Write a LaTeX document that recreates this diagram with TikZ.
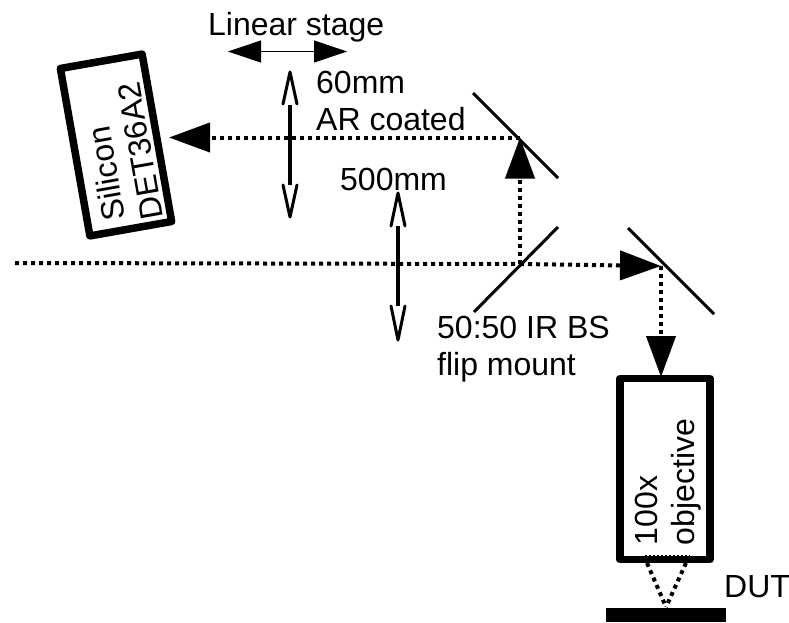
\documentclass[tikz,border=0pt]{standalone}
\usepackage{fontspec}
\setmainfont{Liberation Sans}
\usetikzlibrary{arrows.meta}
\begin{document}
\begin{tikzpicture}[
    x=1pt, y=-1pt,
    label/.style={anchor=base west, inner sep=0pt, align=left},
    instrument/.style={rectangle, draw, line width=7.5pt, line join=round, fill=white, inner sep=0pt},
    sidetext/.style={inner sep=0pt, align=left},
    beam/.style={line width=4pt, dash pattern=on 4pt off 4pt},
    ray/.style={beam, -{Triangle[length=41pt, width=29pt]}},
    mirror/.style={line width=3pt},
    lens/.style={line width=4pt},
    barb/.style={line width=3pt, line join=round, line cap=round},
    every node/.style={font=\fontsize{32}{37}\selectfont},
  ]
  \useasboundingbox (0,0) rectangle (789,622);

  % beam path
  \coordinate (source) at (15,263);
  \coordinate (split) at (520,264);
  \coordinate (foldtop) at (520,137.5);
  \coordinate (foldright) at (661,266);
  \coordinate (detin) at (169,137.5);
  \coordinate (objin) at (661,377);
  \coordinate (focus) at (666,607);

  % objective and focus cone
  \node[instrument, rotate=90, minimum width=181pt, minimum height=90pt] (objective) at (665,469) {};
  \node[sidetext, rotate=90, text width=152pt] (objlabel) at (668.5,469) {100x\\objective};
  \coordinate (conel) at (647,563);
  \coordinate (coner) at (686,563);
  \draw[beam] (conel) -- (focus);
  \draw[beam] (coner) -- (focus);
  \draw[line width=1pt, dash pattern=on 2pt off 2pt] (645,555.5) -- (690,555.5);
  \node[fill=black, inner sep=0pt, minimum width=120pt, minimum height=14pt] (dut) at (666,615) {};
  \node[label] (dutlabel) at (724,597) {DUT};

  % detector
  \node[instrument, rotate=100, minimum width=170pt, minimum height=83pt] (detector) at (116,145) {};
  \node[sidetext, rotate=100, text width=146pt] (detlabel) at (121,151) {\hspace{6pt}Silicon\\DET36A2};

  % rays
  \draw[beam] (source) -- (split);
  \draw[ray] (split) -- (foldright);
  \draw[ray] (split) -- (foldtop);
  \draw[ray] (foldtop) -- (detin);
  \draw[ray] (foldright) -- (objin);

  % mirrors
  \draw[mirror] (473,93) coordinate (mtopa) -- (558,178) coordinate (mtopb);
  \draw[mirror] (558,227) coordinate (bsa) -- (474,312) coordinate (bsb);
  \draw[mirror] (628,228) coordinate (mrighta) -- (714,314) coordinate (mrightb);

  % lenses
  \draw[lens] (290,105) -- (290,185);
  \draw[barb] (283,104) -- (290,72) -- (297,104);
  \draw[barb] (283,185) -- (290,217) -- (297,185);
  \draw[lens] (398,226) -- (398,306);
  \draw[barb] (391,226) -- (398,193) -- (405,226);
  \draw[barb] (391,306) -- (398,340) -- (405,306);

  % stage
  \coordinate (stagel) at (228,51.5);
  \coordinate (stager) at (347,51.5);
  \draw[line width=1pt, {Triangle[length=33pt, width=22pt]}-{Triangle[length=33pt, width=22pt]}] (stagel) -- (stager);

  % labels
  \node[label] (stagelabel) at (208,35) {Linear stage};
  \node[label] (lensa) at (316,130) {60mm\\AR coated};
  \node[label] (lensb) at (340,190) {500mm};
  \node[label] (bslabel) at (437,375) {50:50 IR BS\\flip mount};
\end{tikzpicture}
\end{document}
